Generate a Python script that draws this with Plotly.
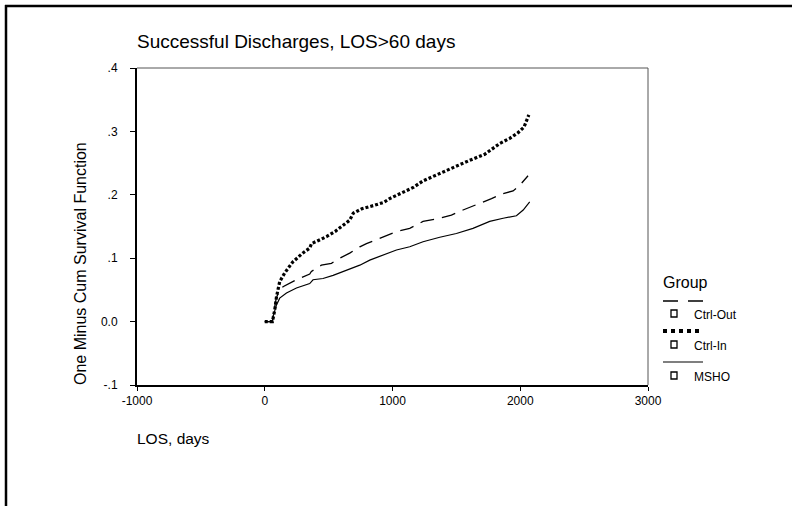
import plotly.graph_objects as go

# ---- data ----
ctrl_in_x = [0, 60, 78, 92, 117, 157, 219, 297, 352, 366, 420, 483, 550, 611, 665, 693, 760, 850, 931,
             978, 1060, 1166, 1239, 1330, 1420, 1500, 1600, 1722, 1761, 1840, 1918, 1983, 2030, 2067]
ctrl_in_y = [0, 0, 0.018, 0.039, 0.063, 0.077, 0.094, 0.108, 0.116, 0.123, 0.128, 0.134, 0.142, 0.152, 0.160,
             0.171, 0.178, 0.183, 0.188, 0.194, 0.202, 0.212, 0.222, 0.230, 0.238, 0.246, 0.254, 0.264, 0.270,
             0.281, 0.289, 0.298, 0.307, 0.326]

ctrl_out_x = [0, 60, 75, 90, 110, 143, 248, 352, 365, 443, 522, 587, 665, 744, 796, 874, 1031, 1135, 1239,
              1370, 1461, 1552, 1618, 1709, 1775, 1866, 1944, 1996, 2061]
ctrl_out_y = [0, 0, 0.02, 0.037, 0.047, 0.055, 0.066, 0.075, 0.079, 0.089, 0.092, 0.100, 0.108, 0.118, 0.123,
              0.129, 0.142, 0.147, 0.158, 0.163, 0.168, 0.176, 0.181, 0.189, 0.194, 0.202, 0.206, 0.215, 0.230]

msho_x = [0, 60, 65, 91, 117, 170, 248, 352, 378, 456, 535, 639, 744, 822, 926, 978, 1031, 1135, 1239, 1370,
          1500, 1630, 1761, 1866, 1970, 2023, 2074]
msho_y = [0, 0, 0.008, 0.026, 0.037, 0.045, 0.053, 0.060, 0.066, 0.068, 0.073, 0.081, 0.089, 0.097, 0.105,
          0.108, 0.113, 0.118, 0.126, 0.133, 0.139, 0.147, 0.158, 0.163, 0.167, 0.176, 0.189]

x_ticks = [-1000, 0, 1000, 2000, 3000]
y_ticks = [-0.1, 0.0, 0.1, 0.2, 0.3, 0.4]
y_tick_labels = ["-.1", "0.0", ".1", ".2", ".3", ".4"]

groups = ["Ctrl-Out", "Ctrl-In", "MSHO"]

# ---- layout geometry (pixels) ----
W, H = 792, 506
PL, PR, PT, PB = 137, 648, 68, 385
pw, ph = PR - PL, PB - PT


def px(x):
    return (x - PL) / pw


def py(y):
    return (PB - y) / ph


FONT = "Liberation Sans, Arial, sans-serif"

fig = go.Figure()
fig.add_trace(go.Scatter(x=ctrl_out_x, y=ctrl_out_y, mode="lines", name=groups[0],
                         line=dict(color="black", width=1.3, dash="14px,8px")))
fig.add_trace(go.Scatter(x=ctrl_in_x, y=ctrl_in_y, mode="lines", name=groups[1],
                         line=dict(color="black", width=3.2, dash="3px,2px")))
fig.add_trace(go.Scatter(x=msho_x, y=msho_y, mode="lines", name=groups[2],
                         line=dict(color="black", width=1.2)))

shapes = []
# outer frame (top and left only)
shapes.append(dict(type="line", xref="paper", yref="paper", x0=px(5), x1=px(W), y0=py(6), y1=py(6),
                   line=dict(color="black", width=2.5)))
shapes.append(dict(type="line", xref="paper", yref="paper", x0=px(6), x1=px(6), y0=py(5), y1=py(H),
                   line=dict(color="black", width=2.5)))
# thin top/right plot frame
shapes.append(dict(type="line", xref="paper", yref="paper", x0=0, x1=1, y0=1, y1=1,
                   line=dict(color="#555", width=1)))
shapes.append(dict(type="line", xref="paper", yref="paper", x0=1, x1=1, y0=0, y1=1,
                   line=dict(color="#555", width=1)))

# legend drawn by hand
leg_x0, leg_x1 = 663, 703
sample_y = [301, 331, 362]
label_y = [315, 346, 377]
dashes = ["15px,10px", "4px,4px", "solid"]
widths = [1.3, 4, 1.2]
for i in range(3):
    shapes.append(dict(type="line", xref="paper", yref="paper",
                       x0=px(leg_x0), x1=px(leg_x1), y0=py(sample_y[i]), y1=py(sample_y[i]),
                       line=dict(color="black", width=widths[i], dash=dashes[i])))
    cx, cy = 674, label_y[i] - 1.5
    shapes.append(dict(type="rect", xref="paper", yref="paper",
                       x0=px(cx - 3), x1=px(cx + 3), y0=py(cy + 3.5), y1=py(cy - 3.5),
                       line=dict(color="black", width=1.3)))

annotations = []
annotations.append(dict(text="Successful Discharges, LOS>60 days", xref="paper", yref="paper",
                        x=px(135), y=py(41), xanchor="left", yanchor="middle", showarrow=False,
                        font=dict(family=FONT, size=19, color="black")))
annotations.append(dict(text="LOS, days", xref="paper", yref="paper",
                        x=px(135), y=py(438), xanchor="left", yanchor="middle", showarrow=False,
                        font=dict(family=FONT, size=15.5, color="black")))
annotations.append(dict(text="One Minus Cum Survival Function", xref="paper", yref="paper",
                        x=px(80), y=py(264), xanchor="center", yanchor="middle", textangle=-90,
                        showarrow=False, font=dict(family=FONT, size=16, color="black")))
annotations.append(dict(text="Group", xref="paper", yref="paper",
                        x=px(661), y=py(282), xanchor="left", yanchor="middle", showarrow=False,
                        font=dict(family=FONT, size=16, color="black")))
for i in range(3):
    annotations.append(dict(text=groups[i], xref="paper", yref="paper",
                            x=px(692), y=py(label_y[i]), xanchor="left", yanchor="middle",
                            showarrow=False, font=dict(family=FONT, size=12, color="black")))

fig.update_layout(
    width=W, height=H, autosize=False,
    margin=dict(l=PL, r=W - PR, t=PT, b=H - PB, pad=0, autoexpand=False),
    paper_bgcolor="white", plot_bgcolor="white",
    showlegend=False,
    shapes=shapes, annotations=annotations,
    font=dict(family=FONT, color="black"),
    xaxis=dict(range=[-1000, 3000], tickvals=x_ticks, ticktext=[str(v) for v in x_ticks],
               showgrid=False, zeroline=False, showline=True, linecolor="black", linewidth=2,
               ticks="outside", ticklen=4, tickwidth=1, tickcolor="black",
               tickfont=dict(family=FONT, size=12, color="black")),
    yaxis=dict(range=[-0.1, 0.4], tickvals=y_ticks, ticktext=y_tick_labels,
               showgrid=False, zeroline=False, showline=True, linecolor="black", linewidth=2,
               ticks="outside", ticklen=5, tickwidth=1, tickcolor="black", ticklabelstandoff=10,
               tickfont=dict(family=FONT, size=12, color="black")),
)

fig.write_html("out.html")
